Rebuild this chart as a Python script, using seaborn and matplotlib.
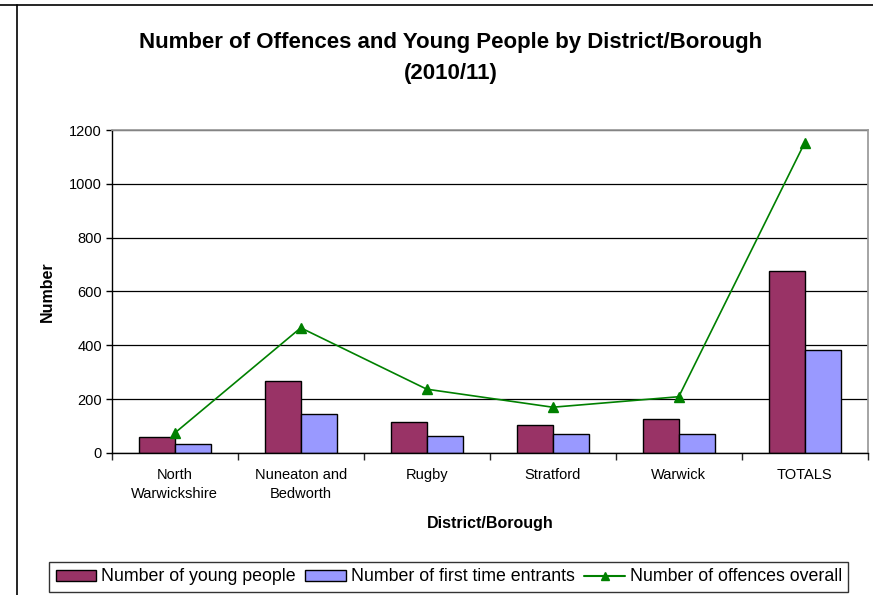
import matplotlib
matplotlib.use("Agg")
import matplotlib.pyplot as plt
import pandas as pd
import seaborn as sns
from matplotlib.lines import Line2D
from matplotlib.patches import Patch

districts = ["North\nWarwickshire", "Nuneaton and\nBedworth", "Rugby", "Stratford", "Warwick", "TOTALS"]
young_people = [58, 267, 115, 105, 125, 676]
first_time_entrants = [35, 146, 63, 69, 69, 383]
offences = [74, 465, 237, 170, 209, 1153]

YOUNG = "#993366"
FTE = "#9999FF"
GREEN = "#008000"

sns.set_theme(style="white")
plt.rcParams["font.family"] = ["Liberation Sans", "DejaVu Sans"]
plt.rcParams["text.color"] = "black"
plt.rcParams["axes.labelcolor"] = "black"

df = pd.DataFrame({
    "district": districts * 2,
    "value": young_people + first_time_entrants,
    "series": ["Number of young people"] * 6 + ["Number of first time entrants"] * 6,
})

fig = plt.figure(figsize=(8.73, 5.95), dpi=100)
ax = fig.add_axes([0.128, 0.2387, 0.866, 0.5428])

sns.barplot(data=df, x="district", y="value", hue="series", order=districts,
            palette=[YOUNG, FTE], width=0.571, edgecolor="black", linewidth=1.0,
            saturation=1, legend=False, ax=ax)
ax.plot(range(len(districts)), offences, color=GREEN, lw=1.2, marker="^",
        markersize=7, zorder=5)

ax.set_ylim(0, 1200)
ax.set_xlim(-0.5, len(districts) - 0.5)
ax.set_yticks(range(0, 1201, 200))
ax.yaxis.grid(True, color="black", lw=0.9)
ax.set_axisbelow(True)
for s in ["top", "right"]:
    ax.spines[s].set_color("#999999")
for s in ["left", "bottom"]:
    ax.spines[s].set_color("black")
    ax.spines[s].set_linewidth(1.0)

ax.tick_params(axis="y", which="major", direction="out", length=4, width=1, left=True,
               labelsize=10.5, colors="black", pad=3)
ax.set_xticks(range(len(districts)))
ax.set_xticklabels(districts, fontsize=10.5, linespacing=1.45)
ax.set_xticks([i - 0.5 for i in range(len(districts) + 1)], minor=True)
ax.tick_params(axis="x", which="major", length=0, pad=11, colors="black")
ax.tick_params(axis="x", which="minor", direction="out", length=5, width=1, bottom=True)

ax.set_ylabel("Number", fontsize=11.5, fontweight="bold", labelpad=10)
ax.set_xlabel("District/Borough", fontsize=11.5, fontweight="bold", labelpad=11)

fig.text(0.516, 0.929, "Number of Offences and Young People by District/Borough",
         ha="center", va="center", fontsize=16, fontweight="bold")
fig.text(0.516, 0.876, "(2010/11)", ha="center", va="center", fontsize=16, fontweight="bold")

handles = [
    Patch(facecolor=YOUNG, edgecolor="black", label="Number of young people"),
    Patch(facecolor=FTE, edgecolor="black", label="Number of first time entrants"),
    Line2D([0], [0], color=GREEN, marker="^", markersize=6, label="Number of offences overall"),
]
leg = fig.legend(handles=handles, loc="center", bbox_to_anchor=(0.514, 0.0303), ncol=3,
                 fontsize=12.8, frameon=True, fancybox=False, handlelength=2.3,
                 handleheight=0.6, handletextpad=0.25, columnspacing=0.55, borderpad=0.35,
                 borderaxespad=0)
leg.get_frame().set_edgecolor("black")
leg.get_frame().set_linewidth(1.0)

# chart frame lines
fig.add_artist(Line2D([0, 1], [0.992, 0.992], color="black", lw=1.2, transform=fig.transFigure))
fig.add_artist(Line2D([0.0195, 0.0195], [0, 0.992], color="black", lw=1.2, transform=fig.transFigure))

fig.savefig("out.png", dpi=100)
